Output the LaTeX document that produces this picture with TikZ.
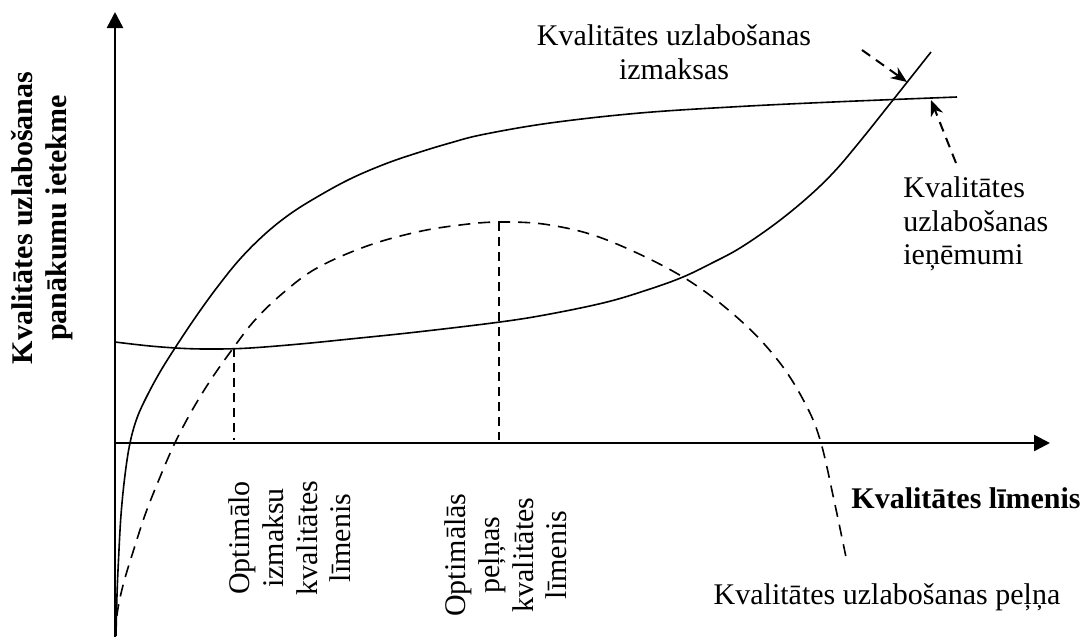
\documentclass[tikz,border=0pt]{standalone}
\usepackage{fontspec}
\setmainfont{Liberation Serif}
\usetikzlibrary{arrows.meta}
\begin{document}
\begin{tikzpicture}[x=0.5pt,y=-0.5pt,
  axis/.style={line width=1.25pt,-{Triangle[length=8pt,width=8pt]}},
  curve/.style={line width=0.8pt,smooth,tension=0.6},
  dcurve/.style={curve,dash pattern=on 6pt off 4pt},
  guide/.style={line width=0.8pt,dash pattern=on 4.5pt off 3pt},
  pointer/.style={line width=1pt,dash pattern=on 5pt off 3.5pt,
    -{Stealth[length=8pt,width=6.5pt,inset=2.5pt]}},
  lbl/.style={font=\fontsize{15}{16.8}\selectfont,inner sep=0pt,align=center},
  blbl/.style={lbl,font=\fontsize{15}{16.8}\selectfont\bfseries}]
\useasboundingbox (0,0) rectangle (1084,639);

% axes
\coordinate (ybot) at (115,637);
\coordinate (ytop) at (115,12);
\coordinate (org) at (115,443);
\coordinate (xend) at (1050,443);
\draw[axis] (ybot) -- (ytop);
\draw[axis] (org) -- (xend);

% revenue curve
\draw[curve] plot coordinates {(116,636) (117,595) (118.5,560) (121,515) (125,475)
  (130,443) (137,418) (147,396) (160,372) (175,348) (196,316.5) (217,287.5)
  (240,259) (265,234) (290,214) (317,197) (350,179) (385,164) (417,153) (450,143)
  (483,134.5) (550,123) (640,113) (740,106.5) (840,101.7) (957,97)};

% cost curve
\draw[curve] plot coordinates {(115,342) (150,346) (185,348.5) (217,349) (250,348)
  (300,344) (350,339) (417,332) (500,322) (550,314) (607,302) (650,289) (683,277)
  (712,263) (740,248) (775,224) (807,198) (833,173) (857,145) (893,100) (931,52)};

% profit curve
\draw[dcurve] plot coordinates {(115,636) (117,615) (120,598) (125,578) (133,552)
  (145,515) (158,482) (173,447) (190,414) (210,381) (234,347) (255,320) (283,293)
  (317,268) (367,246) (417,232) (460,225) (500,222) (550,225) (607,240) (683,277)
  (740,320) (780,363) (807,407) (821,443) (834,500) (847,562)};

% optimum guides
\coordinate (c1) at (234,348);
\coordinate (a1) at (234,440);
\coordinate (c2) at (499,222);
\coordinate (a2) at (499,440);
\draw[guide] (c1) -- (a1);
\draw[guide] (c2) -- (a2);

% pointers to the curves
\coordinate (p1s) at (862,50);
\coordinate (p1e) at (907,82);
\coordinate (p2s) at (956,163);
\coordinate (p2e) at (931,100);
\draw[pointer] (p1s) -- (p1e);
\draw[pointer] (p2s) -- (p2e);

% labels
\node[lbl] (lcost) at (674,52) {Kvalitātes uzlabošanas\\izmaksas};
\node[lbl,align=left,anchor=west] (lrev) at (903,224) {Kvalitātes\\uzlabošanas\\ieņēmumi};
\node[blbl] (lx) at (966,498) {Kvalitātes līmenis};
\node[lbl] (lprof) at (887,597) {Kvalitātes uzlabošanas peļņa};
\node[blbl,rotate=90] (ly) at (42,218) {Kvalitātes uzlabošanas\\panākumu ietekme};
\node[lbl,rotate=90] (lopt1) at (290,538) {Optimālo\\izmaksu\\kvalitātes\\līmenis};
\node[lbl,rotate=90] (lopt2) at (506,555) {Optimālās\\peļņas\\kvalitātes\\līmenis};
\end{tikzpicture}
\end{document}
